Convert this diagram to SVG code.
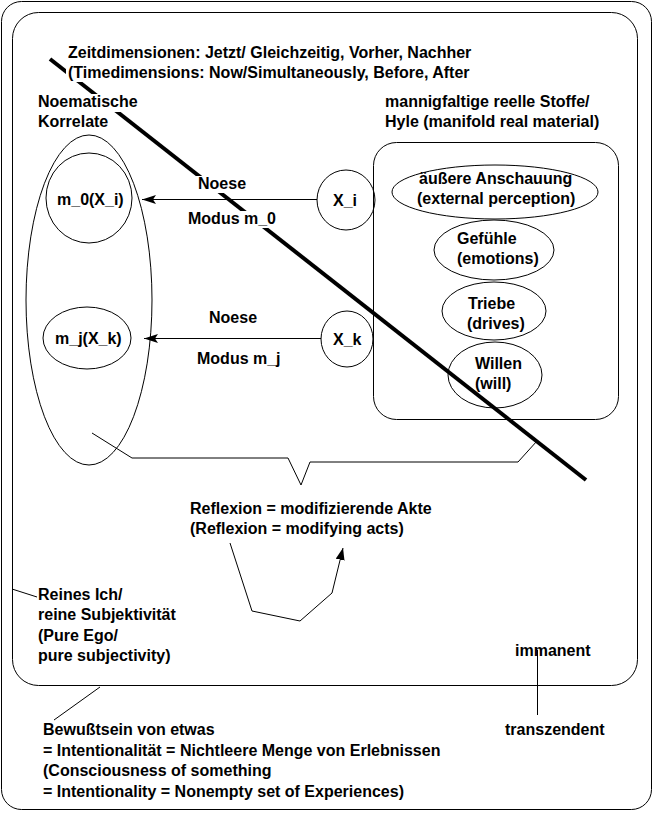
<svg xmlns="http://www.w3.org/2000/svg" width="656" height="814" viewBox="0 0 656 814">
<style>
text{font-family:"Liberation Sans",Arial,sans-serif;font-size:16px;font-weight:bold;fill:#000}
.s{fill:none;stroke:#000;stroke-width:1}
.bg{fill:#fff}
</style>
<defs>
<marker id="ah" markerWidth="14" markerHeight="10" refX="14" refY="5" orient="auto" markerUnits="userSpaceOnUse"><path d="M0,0.5 L14,5 L0,9.5 L3,5 z" fill="#000"/></marker>
<marker id="ah2" markerWidth="12" markerHeight="9" refX="12" refY="4.5" orient="auto" markerUnits="userSpaceOnUse"><path d="M0,0 L12,4.5 L0,9 z" fill="#000"/></marker>
</defs>
<rect width="656" height="814" fill="#fff"/>
<g id="bewusstsein">
<rect class="s" x="1.5" y="1.5" width="650" height="808" rx="20" ry="20"/>
</g>
<g id="reines-ich">
<rect class="s" x="12.5" y="12.5" width="625" height="673" rx="26" ry="26"/>
</g>
<g id="noematische-korrelate">
<ellipse class="s" cx="89" cy="300" rx="63" ry="165"/>
</g>
<g id="m0">
<ellipse class="s" cx="89" cy="198" rx="43" ry="45"/>
<text x="57" y="205">m_0(X_i)</text>
</g>
<g id="mj">
<ellipse class="s" cx="87" cy="338" rx="44" ry="31"/>
<text x="55" y="344">m_j(X_k)</text>
</g>
<g id="hyle">
<rect class="s" x="373.5" y="142.5" width="245" height="277" rx="23" ry="23"/>
</g>
<g id="xi">
<ellipse class="s" cx="346" cy="200" rx="29" ry="30"/>
<text x="333" y="206">X_i</text>
</g>
<g id="xk">
<ellipse class="s" cx="347" cy="339" rx="26" ry="28"/>
<text x="333" y="345">X_k</text>
</g>
<g id="anschauung">
<ellipse class="s" cx="495" cy="192" rx="103" ry="27"/>
<text x="419" y="184">äußere Anschauung</text>
<text x="417" y="204">(external perception)</text>
</g>
<g id="gefuehle">
<ellipse class="s" cx="494" cy="250" rx="60" ry="30"/>
<text x="457" y="244">Gefühle</text>
<text x="457" y="264">(emotions)</text>
</g>
<g id="triebe">
<ellipse class="s" cx="494" cy="311" rx="52" ry="29"/>
<text x="468" y="309">Triebe</text>
<text x="467" y="329">(drives)</text>
</g>
<g id="willen">
<ellipse class="s" cx="495" cy="375" rx="47" ry="33"/>
<text x="475" y="369">Willen</text>
<text x="475" y="389">(will)</text>
</g>
<g id="connectors">
<line class="s" x1="317" y1="199.5" x2="142" y2="199.5" marker-end="url(#ah)"/>
<line class="s" x1="321" y1="338.5" x2="144" y2="338.5" marker-end="url(#ah)"/>
<polyline class="s" points="92,433 132,458 288,458 301,485 310,462 518,462 537,441"/>
<polyline class="s" points="230,543 252,611 300,621 332,593 343,548" marker-end="url(#ah2)"/>
<line class="s" x1="12" y1="589" x2="37" y2="597"/>
<line class="s" x1="100" y1="687" x2="54" y2="720"/>
<line class="s" x1="537.5" y1="650" x2="537.5" y2="715"/>
</g>
<g id="zeitachse">
<line x1="50" y1="59" x2="586" y2="480" stroke="#000" stroke-width="4"/>
</g>
<g id="zeit-label">
<rect class="bg" x="66" y="45" width="406" height="17"/>
<rect class="bg" x="66" y="65" width="406" height="17"/>
<text x="68" y="58">Zeitdimensionen: Jetzt/ Gleichzeitig, Vorher, Nachher</text>
<text x="68" y="78">(Timedimensions: Now/Simultaneously, Before, After</text>
</g>
<g id="noema-label">
<rect class="bg" x="37" y="94" width="103" height="18"/>
<text x="38" y="107">Noematische</text>
<text x="38" y="127">Korrelate</text>
</g>
<g id="hyle-label">
<text x="385" y="107">mannigfaltige reelle Stoffe/</text>
<text x="385" y="127">Hyle (manifold real material)</text>
</g>
<g id="noese-0">
<rect class="bg" x="196" y="176" width="51" height="17"/>
<text x="198" y="189">Noese</text>
<rect class="bg" x="186" y="211" width="90" height="17"/>
<text x="188" y="224">Modus m_0</text>
</g>
<g id="noese-j">
<text x="209" y="323">Noese</text>
<text x="197" y="364">Modus m_j</text>
</g>
<g id="reflexion">
<text x="190" y="514">Reflexion = modifizierende Akte</text>
<text x="190" y="534">(Reflexion = modifying acts)</text>
</g>
<g id="reines-ich-label">
<text x="38" y="600">Reines Ich/</text>
<text x="38" y="620">reine Subjektivität</text>
<text x="38" y="641">(Pure Ego/</text>
<text x="38" y="661">pure subjectivity)</text>
</g>
<g id="immanent"><text x="515" y="656">immanent</text></g>
<g id="transzendent"><text x="505" y="735">transzendent</text></g>
<g id="bewusstsein-label">
<text x="43" y="735">Bewußtsein von etwas</text>
<text x="43" y="756">= Intentionalität = Nichtleere Menge von Erlebnissen</text>
<text x="43" y="776">(Consciousness of something</text>
<text x="43" y="797">= Intentionality = Nonempty set of Experiences)</text>
</g>
</svg>
